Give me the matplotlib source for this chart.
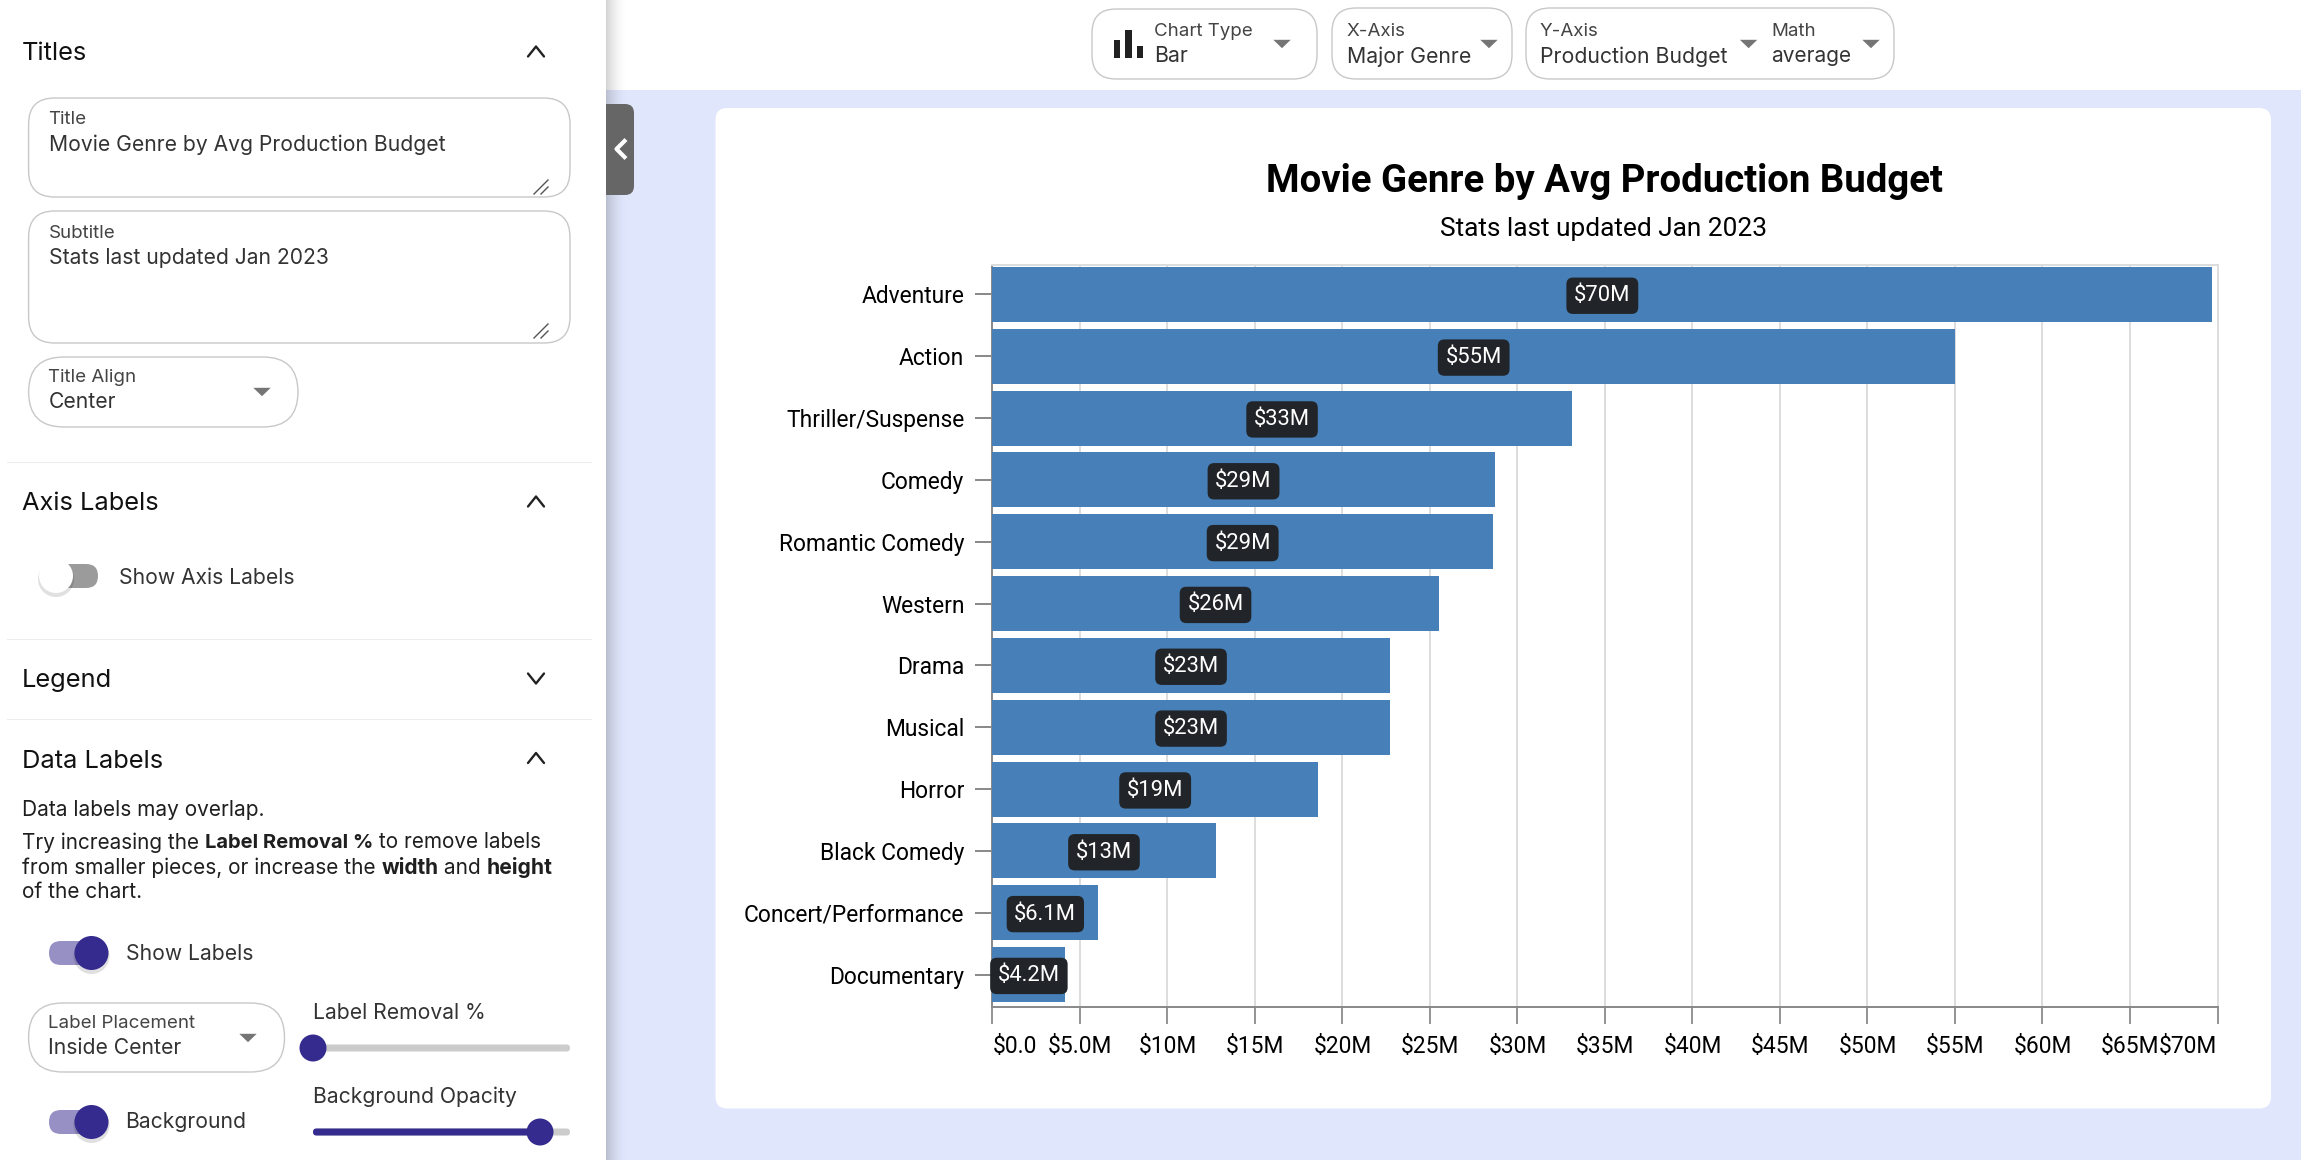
import matplotlib
matplotlib.use("Agg")
import matplotlib.pyplot as plt
from matplotlib.patches import FancyBboxPatch, Rectangle, Circle, Polygon

genres = ["Adventure", "Action", "Thriller/Suspense", "Comedy", "Romantic Comedy", "Western",
          "Drama", "Musical", "Horror", "Black Comedy", "Concert/Performance", "Documentary"]
budget_m = [69.7, 55.0, 33.1, 28.7, 28.6, 25.5, 22.7, 22.7, 18.6, 12.75, 6.05, 4.17]
value_labels = ["$70M", "$55M", "$33M", "$29M", "$29M", "$26M", "$23M", "$23M", "$19M", "$13M", "$6.1M", "$4.2M"]
tick_values = [0, 5, 10, 15, 20, 25, 30, 35, 40, 45, 50, 55, 60, 65, 70]
tick_labels = ["$0.0", "$5.0M", "$10M", "$15M", "$20M", "$25M", "$30M", "$35M", "$40M", "$45M",
               "$50M", "$55M", "$60M", "$65M", "$70M"]
chart_title = "Movie Genre by Avg Production Budget"
chart_subtitle = "Stats last updated Jan 2023"

W, H = 2301, 1160
INTER, ROBOTO = "Inter", "Roboto"
BG, INDIGO, INDIGO_L = "#e0e6fb", "#352b8e", "#9690c4"
BORDER, ARROW, INK = "#c8c8c8", "#757575", "#333333"
BODY, SMALL, HEAD = 15.2, 13.5, 18.3

fig = plt.figure(figsize=(W / 100, H / 100), dpi=100, facecolor=BG)
ui = fig.add_axes([0, 0, 1, 1], zorder=0)
ui.set_xlim(0, W); ui.set_ylim(H, 0); ui.axis("off")
renderer = fig.canvas.get_renderer()


def rect(x0, y0, x1, y1, color, z=1, alpha=None):
    ui.add_patch(Rectangle((x0, y0), x1 - x0, y1 - y0, fc=color, ec="none", zorder=z, alpha=alpha))


def rbox(x0, y0, x1, y1, r, fc="white", ec=BORDER, lw=1.0, z=3):
    ui.add_patch(FancyBboxPatch((x0, y0), x1 - x0, y1 - y0, boxstyle=f"round,pad=0,rounding_size={r}",
                                fc=fc, ec=ec, lw=lw, zorder=z))


def txt(x, y, s, size=BODY, color=INK, weight="normal", ha="left", z=6):
    return ui.text(x, y + 1.5, s, fontsize=size, color=color, fontweight=weight, ha=ha, va="center",
                   family=INTER, zorder=z)


def tri(x, y, w=8.7, h=4.2):
    ui.add_patch(Polygon([(x - w, y - h), (x + w, y - h), (x, y + h)], fc=ARROW, ec="none", zorder=6))


def chevron(x, y, up=True):
    d = -5 if up else 5
    ui.plot([x - 8, x, x + 8], [y - d, y + d, y - d], color="#222222", lw=1.7, zorder=6,
            solid_capstyle="round")


def handle(x, y):
    ui.plot([x - 7, x + 7], [y + 7, y - 7], color="#555555", lw=1, zorder=6)
    ui.plot([x, x + 7], [y + 7, y], color="#555555", lw=1, zorder=6)


def toggle(y, on=True, x0=49, x1=100):
    rect_c = INDIGO_L if on else "#9b9b9b"
    rbox(x0, y - 12, x1, y + 12, 12, fc=rect_c, ec="none", z=4)
    cx = 91.5 if on else 56
    ui.add_patch(Circle((cx, y + 3), 18, fc="#000000", alpha=0.12, ec="none", zorder=4))
    ui.add_patch(Circle((cx, y), 17, fc=INDIGO if on else "white", ec="none", zorder=5))


def slider(y, x_thumb):
    rbox(313, y - 3.5, 570, y + 3.5, 3.5, fc="#cccccc", ec="none", z=4)
    if x_thumb > 320:
        rbox(313, y - 3.5, x_thumb, y + 3.5, 3.5, fc=INDIGO, ec="none", z=5)
    ui.add_patch(Circle((x_thumb, y), 13.5, fc=INDIGO, ec="none", zorder=6))


def runs(x, y, parts):
    for s, w, size in parts:
        t = txt(x, y, s, size=size, color="#1f1f1f", weight=w)
        x = t.get_window_extent(renderer).x1


# page regions
rect(606, 0, W, 90, "white", z=1)
for i in range(22):
    rect(606 + i, 0, 607 + i, H, "#000000", z=2, alpha=0.17 * (1 - i / 22) ** 2)
rect(0, 0, 606, H, "white", z=3)
rbox(606, 104, 634, 195, 9, fc="#666666", ec="none", z=4)
rect(606, 104, 616, 195, "#666666", z=4)
ui.plot([624.5, 616.5, 624.5], [141, 149, 157], color="white", lw=3, zorder=5)
rbox(715.5, 108, 2271, 1108.5, 12, fc="white", ec="none", z=2)

# sidebar: titles
txt(22, 52, "Titles", HEAD, "#111111")
chevron(536, 51.5)
rbox(28.6, 98, 570, 197, 26)
txt(48.5, 118, "Title", SMALL, "#444444")
txt(49, 143, chart_title)
handle(541, 187)
rbox(28.6, 211, 570, 343, 26)
txt(48.5, 232, "Subtitle", SMALL, "#444444")
txt(49, 257, chart_subtitle)
handle(541, 331)
rbox(28.6, 357, 298, 427, 35)
txt(48.5, 375.5, "Title Align", SMALL, "#444444")
txt(48.5, 400.5, "Center")
tri(262, 392)
rect(7, 461.5, 592, 462.5, "#ececec", z=4)

# sidebar: axis labels, legend
txt(22, 502, "Axis Labels", HEAD, "#111111")
chevron(536, 501.5)
toggle(576, on=False, x0=44, x1=98)
txt(119, 576, "Show Axis Labels")
rect(7, 638.5, 592, 639.5, "#ececec", z=4)
txt(22, 679, "Legend", HEAD, "#111111")
chevron(536, 678.5, up=False)
rect(7, 718.5, 592, 719.5, "#ececec", z=4)

# sidebar: data labels
txt(22, 759.5, "Data Labels", HEAD, "#111111")
chevron(536, 758)
txt(22, 809, "Data labels may overlap.", size=15.0, color="#1f1f1f")
runs(22, 841, [("Try increasing the ", "normal", 14.9), ("Label Removal %", "bold", 14.5),
               (" to remove labels", "normal", 14.9)])
runs(22, 866, [("from smaller pieces, or increase the ", "normal", 15.0), ("width", "bold", 15.0),
               (" and ", "normal", 15.0), ("height", "bold", 15.2)])
txt(22, 891, "of the chart.", size=15.0, color="#1f1f1f")
toggle(953)
txt(126.5, 953, "Show Labels")
rbox(28.6, 1003, 284.5, 1072, 34)
txt(48.5, 1021.5, "Label Placement", SMALL, "#444444")
txt(48.5, 1046.5, "Inside Center")
tri(248, 1038)
txt(313, 1011.5, "Label Removal %")
slider(1048, 313)
toggle(1122)
txt(125.5, 1120.5, "Background")
txt(313, 1095.5, "Background Opacity")
slider(1132, 540)

# top selectors
rbox(1092, 9, 1317, 79, 24, z=2)
for bx, by in zip([1113.5, 1125, 1136.5], [40, 30, 46]):
    rect(bx, by, bx + 6.5, 58, "#212121", z=5)
txt(1154, 30, "Chart Type", SMALL, "#444444")
txt(1154, 55, "Bar", 15.3)
tri(1282, 44)
rbox(1332, 8, 1512, 79, 24, z=2)
txt(1346.6, 30, "X-Axis", SMALL, "#444444")
txt(1346.6, 55, "Major Genre", 15.3)
tri(1489, 44)
rbox(1526, 8, 1894, 79, 24, z=2)
txt(1540, 30, "Y-Axis", SMALL, "#444444")
txt(1540, 55, "Production Budget", 15.3)
tri(1748.6, 44)
txt(1771, 30, "Math", SMALL, "#444444")
txt(1771, 55, "average", 15.0)
tri(1871, 44)

# chart title and subtitle
ui.text(1604, 181, chart_title, fontsize=27.6, fontweight="bold", family=ROBOTO, color="black",
        ha="center", va="center", zorder=6)
ui.text(1604, 229, chart_subtitle, fontsize=18.9, family=ROBOTO, color="black",
        ha="center", va="center", zorder=6)

# bar chart
ax = fig.add_axes([992.4 / W, 1 - 1007 / H, (2217.5 - 992.4) / W, (1007 - 265) / H], zorder=2)
ax.patch.set_alpha(0)
y_pos = list(range(len(genres)))
ax.barh(y_pos, budget_m, height=0.89, color="#4780b8", zorder=3)
ax.set_xlim(0, 70)
ax.set_ylim(len(genres) - 0.5 + 0.025, -0.5 + 0.025)
ax.set_xticks(tick_values, tick_labels)
ax.set_yticks(y_pos, genres)
ax.grid(axis="x", color="#dddddd", lw=1.4, zorder=1)
ax.set_axisbelow(True)
for side in ("top", "right"):
    ax.spines[side].set_color("#dddddd")
    ax.spines[side].set_linewidth(1.4)
for side in ("left", "bottom"):
    ax.spines[side].set_color("#888888")
    ax.spines[side].set_linewidth(1.4)
ax.tick_params(axis="x", length=12.2, width=1.1, color="#777777", pad=8, labelsize=16.4, labelfontfamily=ROBOTO)
ax.tick_params(axis="y", length=12.2, width=1.4, color="#888888", pad=8, labelsize=16.4, labelfontfamily=ROBOTO)
xlabels = ax.get_xticklabels()
xlabels[0].set_ha("left")
xlabels[-1].set_ha("right")
for yp, v, s in zip(y_pos, budget_m, value_labels):
    ax.annotate(s, (v / 2, yp), xytext=(0, -1), textcoords="offset points", color="white", fontsize=15.8,
                family=ROBOTO, ha="center", va="center", zorder=5,
                bbox=dict(boxstyle="round,pad=0.35,rounding_size=0.3", fc="#212529", ec="none"))

fig.savefig("out.png", dpi=100, facecolor=BG)
